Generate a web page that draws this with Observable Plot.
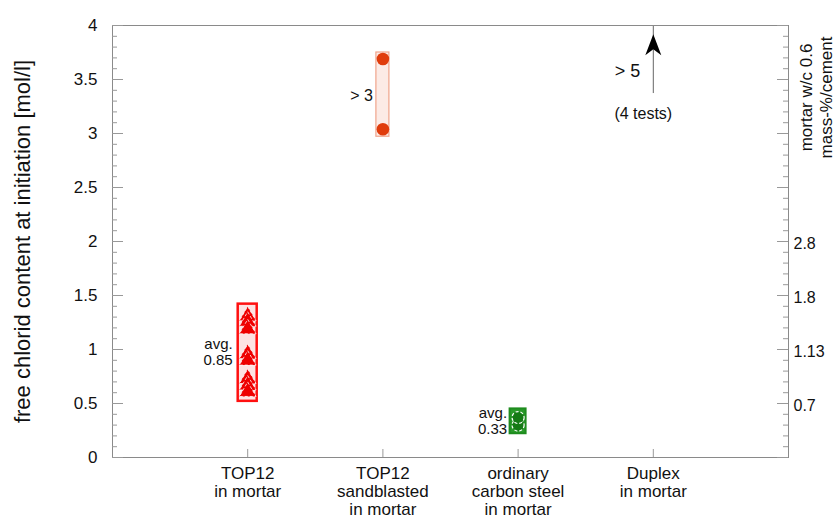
<!DOCTYPE html>
<html>
<head>
<meta charset="utf-8">
<script src="https://cdn.jsdelivr.net/npm/d3@7"></script>
<script src="https://cdn.jsdelivr.net/npm/@observablehq/plot@0.6"></script>
<style>
  html, body { margin: 0; padding: 0; background: #fff; }
  #chart { width: 838px; height: 520px; }
</style>
</head>
<body>
<div id="chart"></div>
<script>
// ---- data ----
const categories = ["TOP12\nin mortar", "TOP12\nsandblasted\nin mortar", "ordinary\ncarbon steel\nin mortar", "Duplex\nin mortar"];
const catPos = [1, 2, 3, 4];
const yMajorTicks = [0, 0.5, 1, 1.5, 2, 2.5, 3, 3.5, 4];
const yMinorTicks = d3.range(0, 41).map(d => d / 10).filter(d => Math.round(d * 10) % 5 !== 0);
const rightTickValues = [2, 1.5, 1, 0.5];
const rightTickLabels = ["2.8", "1.8", "1.13", "0.7"];
const top12Mortar = [1.31, 1.26, 1.19, 0.96, 0.90, 0.73, 0.67, 0.61];
const top12Sandblasted = [3.04, 3.69];
const carbonSteel = [0.30, 0.37];
const boxCat = [1, 2, 3];
const boxLow = [0.52, 2.97, 0.22];
const boxHigh = [1.42, 3.75, 0.45];
const boxHalfWidth = [9.5, 6.5, 8];
const duplexArrow = { cat: 4, from: 3.37, tip: 3.92, to: 4 };
const notes = [
  { cat: 1, y: 0.98, text: "avg.\n0.85", dx: -15, anchor: "end", size: 15 },
  { cat: 2, y: 3.35, text: "> 3", dx: -10, anchor: "end", size: 16 },
  { cat: 3, y: 0.34, text: "avg.\n0.33", dx: -11, anchor: "end", size: 15 },
  { cat: 4, y: 3.58, text: "> 5", dx: -13, anchor: "end", size: 18 },
  { cat: 4, y: 3.18, text: "(4 tests)", dx: -10, anchor: "middle", size: 16 }
];

// ---- layout ----
const W = 838, H = 520, mL = 112, mR = 50, mT = 25, mB = 63;
const innerW = W - mL - mR, innerH = H - mT - mB;
const font = "Liberation Sans, Arial, Helvetica, sans-serif";

const boxes = boxCat.map((c, i) => ({ c, lo: boxLow[i], hi: boxHigh[i], hw: boxHalfWidth[i] }));
const boxStyle = [
  { stroke: "#ff1010", fill: "#fde3e3", sw: 2.5 },
  { stroke: "#f0a48c", fill: "#fcebe6", sw: 1.2 },
  { stroke: "#1e8c1e", fill: "#2a9a2a", sw: 2 }
];

const arrowHead = {
  draw(ctx) {
    ctx.moveTo(0, 0);
    ctx.lineTo(-8, 21);
    ctx.lineTo(0, 15);
    ctx.lineTo(8, 21);
    ctx.closePath();
  }
};

const marks = [
  // boxes
  ...boxes.map((b, i) => Plot.rect([b], {
    x1: "c", x2: "c", y1: "lo", y2: "hi",
    insetLeft: -b.hw, insetRight: -b.hw,
    fill: boxStyle[i].fill, stroke: boxStyle[i].stroke, strokeWidth: boxStyle[i].sw
  })),
  // markers
  Plot.dot(top12Mortar, { x: () => 1, y: d => d, symbol: "triangle", r: 6.2, fill: "#ee0000", stroke: "#fff", strokeWidth: 0.8, strokeDasharray: "3,2" }),
  Plot.dot(top12Sandblasted, { x: () => 2, y: d => d, r: 6.3, fill: "#e03c0c" }),
  Plot.dot(carbonSteel, { x: () => 3, y: d => d, r: 6, fill: "#157a15", stroke: "#fff", strokeWidth: 1.2, strokeDasharray: "3,2" }),
  // Duplex arrow
  Plot.ruleX([duplexArrow], { x: "cat", y1: "from", y2: "to", stroke: "#666", strokeWidth: 1 }),
  Plot.dot([duplexArrow], { x: "cat", y: "tip", symbol: arrowHead, fill: "#000", stroke: "none" }),
  // annotations
  ...notes.map(n => Plot.text([n], { x: "cat", y: "y", text: "text", dx: n.dx, textAnchor: n.anchor, fontSize: n.size, lineHeight: 1.05, fill: "#111" })),
  // frame
  Plot.frame({ stroke: "#8a8a8a" }),
  // ticks left
  Plot.tickY(yMinorTicks, { y: d => d, insetRight: innerW - 5, stroke: "#999" }),
  Plot.tickY(yMajorTicks, { y: d => d, insetRight: innerW - 11, stroke: "#999" }),
  // ticks right
  Plot.tickY(yMinorTicks, { y: d => d, insetLeft: innerW - 5, stroke: "#999" }),
  Plot.tickY(yMajorTicks, { y: d => d, insetLeft: innerW - 11, stroke: "#999" }),
  // ticks bottom
  Plot.tickX(catPos, { x: d => d, insetTop: innerH - 8, stroke: "#999" }),
  // left tick labels
  Plot.text(yMajorTicks, { y: d => d, frameAnchor: "left", dx: -15, textAnchor: "end", text: d => String(d), fontSize: 17, fill: "#111" }),
  // right tick labels
  Plot.text(rightTickValues, { y: d => d, frameAnchor: "right", dx: 5, dy: 2, textAnchor: "start", text: (d, i) => rightTickLabels[i], fontSize: 16, fill: "#111" }),
  // category labels
  Plot.text(catPos, { x: d => d, frameAnchor: "bottom", lineAnchor: "top", dy: 9, text: (d, i) => categories[i], fontSize: 17, lineHeight: 1.06, fill: "#111" }),
  // axis titles
  Plot.text(["free chlorid content at initiation [mol/l]"], { frameAnchor: "left", dx: -90, rotate: -90, textAnchor: "middle", lineAnchor: "middle", text: d => d, fontSize: 22, fill: "#111" }),
  Plot.text(["mortar w/c 0.6\nmass-%/cement"], { frameAnchor: "top-right", dx: 27, dy: 72, rotate: -90, textAnchor: "middle", lineAnchor: "middle", text: d => d, fontSize: 17, lineHeight: 1.2, fill: "#111" })
];

const chart = Plot.plot({
  width: W, height: H,
  marginLeft: mL, marginRight: mR, marginTop: mT, marginBottom: mB,
  x: { type: "linear", domain: [0, 5], axis: null },
  y: { domain: [0, 4], axis: null },
  style: { fontFamily: font, background: "#fff" },
  marks
});
document.getElementById("chart").appendChild(chart);
</script>
</body>
</html>
